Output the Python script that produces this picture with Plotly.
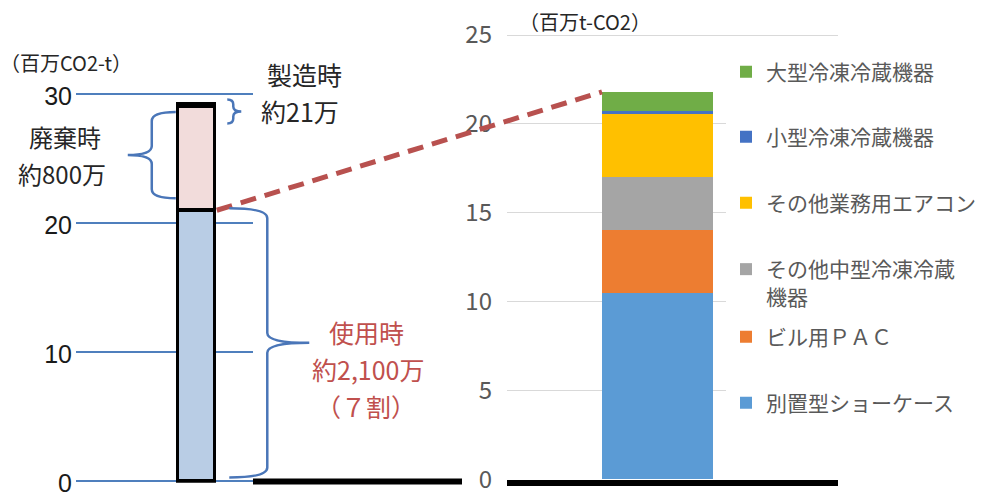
import plotly.graph_objects as go

W, H = 987, 496
FONT = "Noto Sans CJK JP"
NUM_FONT = "Liberation Sans"

# Life-cycle emissions of commercial refrigeration / AC equipment (million t-CO2)
stage_names = ["使用時", "廃棄時", "製造時"]
stage_values = [21.0, 8.0, 0.21]
stage_colors = ["#B9CDE5", "#F2DCDB", "#7F7F7F"]

# Use-phase breakdown by equipment type, stacked bottom to top
equip_names = ["別置型ショーケース", "ビル用ＰＡＣ", "その他中型冷凍冷蔵<br>機器",
               "その他業務用エアコン", "小型冷凍冷蔵機器", "大型冷凍冷蔵機器"]
equip_values = [10.5, 3.5, 3.0, 3.6, 0.1, 1.1]
equip_colors = ["#5B9BD5", "#ED7D31", "#A5A5A5", "#FFC000", "#4472C4", "#70AD47"]

left_ticks = [0, 10, 20, 30]
right_ticks = [0, 5, 10, 15, 20, 25]

# ---- subplot geometry (pixel anchors of the axis ranges) ----
LX_DOM = [76 / W, 253 / W]
LX_RANGE = [-1.767, 0.828]
L_BAR_W = 0.55
LY_RANGE = [-0.1, 30.1]
L_PX_PER = (481.5 - 94) / 30
LY_DOM = [(H - (481.5 + 0.1 * L_PX_PER)) / H, (H - (94 - 0.1 * L_PX_PER)) / H]

RX_DOM = [507 / W, 838 / W]
RX_RANGE = [-0.8135, 0.9757]
R_BAR_W = 0.6
RY_RANGE = [0, 25.1]
R_PX_PER = (479.5 - 35) / 25
RY_DOM = [(H - 479.5) / H, (H - (35 - 0.1 * R_PX_PER)) / H]


def to_paper(v, rng, dom):
    return dom[0] + (v - rng[0]) / (rng[1] - rng[0]) * (dom[1] - dom[0])


def lx(v):
    return to_paper(v, LX_RANGE, LX_DOM)


def ly(v):
    return to_paper(v, LY_RANGE, LY_DOM)


def rx(v):
    return to_paper(v, RX_RANGE, RX_DOM)


def ry(v):
    return to_paper(v, RY_RANGE, RY_DOM)


def px_x(p):
    return p * W


def px_y(p):
    return (1 - p) * H


fig = go.Figure()

# left: life-cycle stacked bar
for name, val, col in zip(stage_names, stage_values, stage_colors):
    fig.add_trace(go.Bar(
        x=[0], y=[val], name=name, width=L_BAR_W,
        marker=dict(color=col, line=dict(color="black", width=3.5)),
        xaxis="x", yaxis="y", showlegend=False, hoverinfo="skip",
    ))

# right: use-phase breakdown, each entry in its own legend box
legend_keys = ["legend6", "legend5", "legend4", "legend3", "legend2", "legend"]
for name, val, col, lg in zip(equip_names, equip_values, equip_colors, legend_keys):
    fig.add_trace(go.Bar(
        x=[0], y=[val], name=name, width=R_BAR_W,
        marker=dict(color=col, line=dict(width=0)),
        xaxis="x2", yaxis="y2", legend=lg, hoverinfo="skip",
    ))

use_val = stage_values[0]
disp_top = stage_values[0] + stage_values[1]
total_right = sum(equip_values)

shapes = []

# black baseline continuing to the right of the left panel
shapes.append(dict(type="line", xref="paper", yref="paper",
                   x0=LX_DOM[1], x1=462 / W, y0=ly(0), y1=ly(0),
                   line=dict(color="black", width=6)))

# dashed connector from use-phase top to the breakdown bar top
shapes.append(dict(type="line", xref="paper", yref="paper",
                   x0=lx(L_BAR_W / 2) + 1.5 / W, y0=ly(use_val),
                   x1=rx(-R_BAR_W / 2), y1=ry(total_right),
                   line=dict(color="#B8514F", width=5, dash="16px,9px")))


def brace(xn, xm, xt, yt, yb, r):
    """Curly brace in pixel space (y down), returned as a paper-space SVG path."""
    ym = (yt + yb) / 2

    def P(x, y):
        return f"{x / W:.5f},{1 - y / H:.5f}"

    return (f"M{P(xn, yt)} Q{P(xm, yt)} {P(xm, yt + r)} L{P(xm, ym - r)} "
            f"Q{P(xm, ym)} {P(xt, ym)} Q{P(xm, ym)} {P(xm, ym + r)} "
            f"L{P(xm, yb - r)} Q{P(xm, yb)} {P(xn, yb)}")


BRACE = dict(color="#4A76B8", width=2.5)
bar_right_px = px_x(lx(L_BAR_W / 2)) + 2
bar_left_px = px_x(lx(-L_BAR_W / 2)) - 2

# use phase
shapes.append(dict(type="path", xref="paper", yref="paper", line=BRACE,
                   path=brace(bar_right_px + 12, bar_right_px + 50, bar_right_px + 92,
                              px_y(ly(use_val)) - 2, px_y(ly(0)) - 4, 10)))
# disposal
shapes.append(dict(type="path", xref="paper", yref="paper", line=BRACE,
                   path=brace(bar_left_px, bar_left_px - 24, bar_left_px - 48,
                              px_y(ly(disp_top)) + 5, px_y(ly(use_val)) - 12, 9)))
# manufacturing
mfg_mid = px_y(ly(disp_top + stage_values[2] / 2)) + 6
shapes.append(dict(type="path", xref="paper", yref="paper", line=BRACE,
                   path=brace(bar_right_px + 10, bar_right_px + 16, bar_right_px + 24,
                              mfg_mid - 12, mfg_mid + 12, 5)))


def label(text, x, y, size, color):
    return dict(text=text, x=x / W, y=1 - y / H, xref="paper", yref="paper",
                showarrow=False, xanchor="center", yanchor="middle",
                font=dict(family=FONT, size=size, color=color))


RED = "#C0504D"
DARK = "#262626"
annotations = [
    label("（百万CO2-t）", 66, 63, 20, DARK),
    label("（百万t-CO2）", 585, 21, 20, DARK),
    label("製造時", 304, 74, 25, DARK),
    label("約21万", 300, 111, 25, DARK),
    label("廃棄時", 65, 137, 24, DARK),
    label("約800万", 62, 173, 24, DARK),
    label("使用時", 366, 332, 25, RED),
    label("約2,100万", 368, 369, 25, RED),
    label("（７割）", 366, 406, 25, RED),
]

legend_base = dict(font=dict(family=FONT, size=21, color="#595959"),
                   bgcolor="white", borderwidth=0, xanchor="left",
                   yanchor="middle", x=726 / W, valign="top")
legend_y = {"legend": 72, "legend2": 137, "legend3": 203,
            "legend4": 283, "legend5": 337, "legend6": 403}
legends = {k: dict(legend_base, y=1 - v / H) for k, v in legend_y.items()}

fig.update_layout(
    width=W, height=H,
    margin=dict(l=0, r=0, t=0, b=0, autoexpand=False),
    paper_bgcolor="white", plot_bgcolor="white",
    barmode="stack", bargap=0,
    font=dict(family=FONT),
    showlegend=True,
    xaxis=dict(domain=LX_DOM, range=LX_RANGE, anchor="y", automargin=False,
               showgrid=False, zeroline=False, showticklabels=False, showline=False),
    yaxis=dict(domain=LY_DOM, range=LY_RANGE, anchor="x", automargin=False,
               tickvals=left_ticks, showgrid=True, gridcolor="#4F7FBD", gridwidth=1.5,
               zeroline=False, showline=False, ticks="", ticklabelstandoff=3,
               ticklabelshift=2, ticklabeloverflow="allow",
               tickfont=dict(family=NUM_FONT, size=25, color="#1A1A1A")),
    xaxis2=dict(domain=RX_DOM, range=RX_RANGE, anchor="y2", automargin=False,
                showgrid=False, zeroline=False, showticklabels=False,
                showline=True, linecolor="black", linewidth=6),
    yaxis2=dict(domain=RY_DOM, range=RY_RANGE, anchor="x2", automargin=False,
                tickvals=right_ticks, showgrid=True, gridcolor="#D9D9D9", gridwidth=1,
                zeroline=False, showline=False, ticks="", ticklabelstandoff=14,
                ticklabeloverflow="allow",
                tickfont=dict(family=FONT, size=24, color="#595959")),
    shapes=shapes,
    annotations=annotations,
    **legends,
)

fig.write_html("out.html")
